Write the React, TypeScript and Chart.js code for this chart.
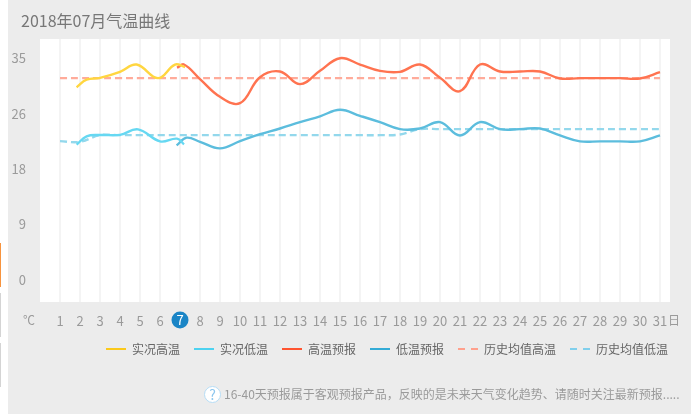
import React, { useEffect, useRef } from "react";
import { Chart, registerables } from "chart.js";

Chart.register(...registerables);

const FONT = '"Noto Sans CJK SC", "Noto Sans", sans-serif';

const dayLabels = Array.from({ length: 31 }, (_, i) => i + 1);
const yTickValues = [0, 8.75, 17.5, 26.25, 35];
const todayDay = 7;

const actualHighDays = [1.83, 2.33, 3, 4, 4.83, 5.9, 6.75, 7.25];
const actualHigh = [30.4, 31.6, 31.9, 32.85, 34.0, 31.85, 34.0, 33.6];

const actualLowDays = [1.83, 2.33, 3, 4, 4.9, 6, 6.85, 7.2];
const actualLow = [21.35, 22.66, 22.87, 22.9, 23.77, 21.87, 22.3, 21.4];

const forecastHighDays = [6.85, 7.2, 8, 9, 10, 11, 12, 13, 14, 15, 16, 17, 18, 19, 20, 21, 22, 23, 24, 25, 26, 27, 28, 29, 30, 31];
const forecastHigh = [33.5, 34.0, 31.7, 28.9, 27.9, 32.0, 32.9, 30.9, 33.0, 35.0, 34.0, 33.0, 32.85, 34.0, 31.9, 29.8, 34.0, 32.9, 32.9, 32.9, 31.8, 31.85, 31.85, 31.85, 31.8, 32.8];

const forecastLowDays = [6.83, 7.33, 8, 9, 10, 11, 12, 13, 14, 15, 16, 17, 18, 19, 20, 21, 22, 23, 24, 25, 26, 27, 28, 29, 30, 31];
const forecastLow = [21.24, 22.45, 21.8, 20.76, 21.9, 23.0, 23.9, 24.9, 25.83, 26.85, 25.9, 24.9, 23.8, 23.9, 24.9, 22.8, 24.9, 23.8, 23.8, 23.9, 22.8, 21.87, 21.87, 21.87, 21.87, 22.8];

const historyHigh = dayLabels.map(() => 31.85);
const historyLow = [21.9, 21.8, 22.85, 22.85, 22.85, 22.85, 22.85, 22.85, 22.85, 22.85, 22.85, 22.85, 22.85, 22.85, 22.85, 22.85, 22.85, 22.95, 23.8, 23.8, 23.8, 23.8, 23.8, 23.8, 23.8, 23.8, 23.8, 23.8, 23.8, 23.8, 23.8];

const pts = (xs: number[], ys: number[]) => ys.map((y, i) => ({ x: xs[i], y }));

const axisExtras = {
  id: "axisExtras",
  afterLayout(chart: any) {
    if (chart.legend) chart.legend.right = 682;
  },
  afterDraw(chart: any) {
    const { ctx, scales } = chart;
    const y = 320;
    ctx.save();
    ctx.font = `12px ${FONT}`;
    ctx.textBaseline = "middle";
    ctx.fillStyle = "#9a9a9a";
    ctx.textAlign = "left";
    ctx.fillText("℃", 23, y);
    ctx.fillText("日", 668, y);
    ctx.font = `13px ${FONT}`;
    const cx = scales.x.getPixelForValue(todayDay);
    ctx.beginPath();
    ctx.arc(cx, y, 8.5, 0, Math.PI * 2);
    ctx.fillStyle = "#1a85c6";
    ctx.fill();
    ctx.fillStyle = "#ffffff";
    ctx.textAlign = "center";
    ctx.fillText(String(todayDay), cx, y);
    ctx.restore();
  },
};

const plotBackground = {
  id: "plotBackground",
  beforeDraw(chart: any) {
    const { ctx, chartArea: a } = chart;
    ctx.save();
    ctx.fillStyle = "#ffffff";
    ctx.fillRect(a.left, a.top, a.right - a.left, a.bottom - a.top);
    ctx.restore();
  },
};

export default function App() {
  const ref = useRef<HTMLCanvasElement>(null);
  useEffect(() => {
    if (!ref.current) return;
    const line = (label: string, data: any[], color: string, dash?: number[]) => ({
      label,
      data,
      borderColor: color,
      backgroundColor: color,
      borderWidth: 2.4,
      borderDash: dash || [],
      pointRadius: 0,
      tension: 0.4,
      fill: false,
    });
    const legendColors = ["#fbc91b", "#4dd2f0", "#ff5430", "#33abd6", "#ffa08c", "#80cfec"];
    const chart = new Chart(ref.current, {
      type: "line",
      data: {
        datasets: [
          line("实况高温", pts(actualHighDays, actualHigh), "#ffd640"),
          line("实况低温", pts(actualLowDays, actualLow), "#66d8f2"),
          line("高温预报", pts(forecastHighDays, forecastHigh), "#ff7350"),
          line("低温预报", pts(forecastLowDays, forecastLow), "#5cbddd"),
          line("历史均值高温", pts(dayLabels, historyHigh), "#ffab9a", [7, 4]),
          line("历史均值低温", pts(dayLabels, historyLow), "#93d8ec", [7, 4]),
        ],
      },
      options: {
        animation: false,
        responsive: false,
        maintainAspectRatio: false,
        layout: { padding: { left: 0, right: 21, top: 39, bottom: 49 } },
        scales: {
          x: {
            type: "linear",
            min: 0,
            max: 31.5,
            border: { display: false },
            grid: { color: "#f4f4f4", lineWidth: 2, drawTicks: false },
            afterBuildTicks: (s: any) => {
              s.ticks = dayLabels.map((value) => ({ value }));
            },
            afterFit: (s: any) => {
              s.height = 27;
            },
            ticks: {
              autoSkip: false,
              maxRotation: 0,
              padding: 11,
              color: "#9a9a9a",
              font: { family: FONT, size: 13 },
              callback: (v: any) => String(v),
            },
          },
          y: {
            min: -3.49,
            max: 38.03,
            border: { display: false },
            grid: { display: false },
            afterBuildTicks: (s: any) => {
              s.ticks = yTickValues.map((value) => ({ value }));
            },
            afterFit: (s: any) => {
              s.width = 40;
            },
            ticks: {
              padding: 6,
              color: "#9a9a9a",
              font: { family: FONT, size: 13 },
              callback: (v: any) => String(Math.round(Number(v))),
            },
          },
        },
        plugins: {
          tooltip: { enabled: false },
          legend: {
            position: "bottom",
            align: "end",
            labels: {
              usePointStyle: true,
              pointStyle: "line",
              pointStyleWidth: 20,
              padding: 14,
              color: "#666666",
              font: { family: FONT, size: 12 },
              generateLabels: (c: any) =>
                c.data.datasets.map((d: any, i: number) => ({
                  text: d.label,
                  datasetIndex: i,
                  pointStyle: "line",
                  strokeStyle: legendColors[i],
                  fillStyle: legendColors[i],
                  lineWidth: 2,
                  lineDash: i >= 4 ? [7, 6] : [],
                  fontColor: "#666666",
                })),
            },
          },
        },
      },
      plugins: [plotBackground, axisExtras],
    } as any);
    return () => chart.destroy();
  }, []);

  const abs = (s: React.CSSProperties): React.CSSProperties => ({ position: "absolute", ...s });
  return (
    <div style={abs({ left: 0, top: 0, width: 691, height: 414, background: "#ffffff", overflow: "hidden" })}>
      <div style={abs({ left: 8, top: 0, width: 683, height: 414, background: "#ececec" })} />
      <div style={abs({ left: 0, top: 243, width: 1, height: 44, background: "#f7943e" })} />
      <div style={abs({ left: 0, top: 293, width: 1, height: 44, background: "#d4d4d4" })} />
      <div style={abs({ left: 0, top: 343, width: 1, height: 44, background: "#d4d4d4" })} />
      <canvas ref={ref} width={691} height={414} style={abs({ left: 0, top: 0, width: 691, height: 414 })} />
      <div style={abs({ left: 21, top: 8, font: `16px/24px ${FONT}`, color: "#777777", whiteSpace: "nowrap" })}>
        2018年07月气温曲线
      </div>
      <div
        style={abs({
          left: 204,
          top: 386,
          width: 15,
          height: 15,
          borderRadius: "50%",
          background: "#ffffff",
          border: "1px solid #b5dcf5",
          font: `14px/15px ${FONT}`,
          color: "#8cc6ee",
          textAlign: "center",
        })}
      >
        ?
      </div>
      <div style={abs({ left: 224, top: 385, font: `12px/18px ${FONT}`, color: "#9a9a9a", whiteSpace: "nowrap" })}>
        16-40天预报属于客观预报产品，反映的是未来天气变化趋势、请随时关注最新预报.....
      </div>
    </div>
  );
}
